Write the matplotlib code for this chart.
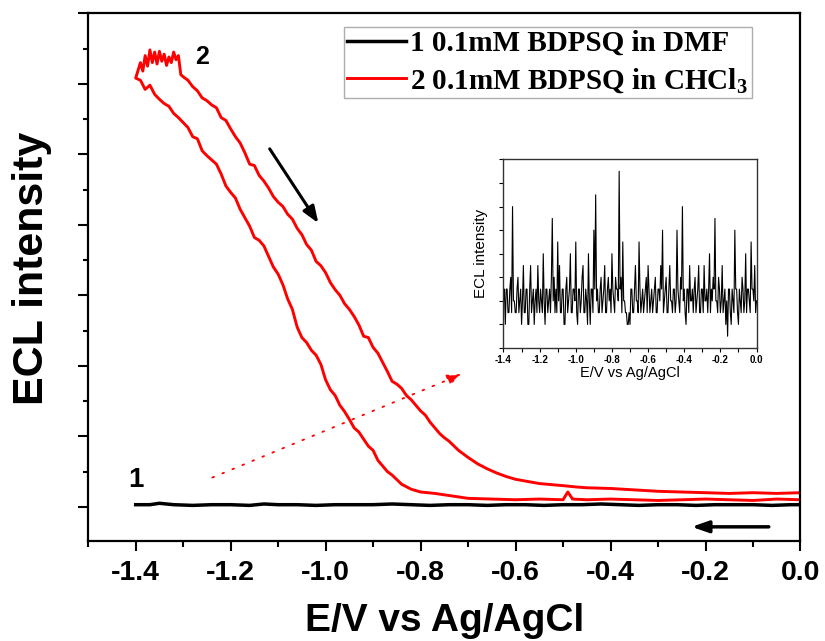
import matplotlib
matplotlib.use("Agg")
import matplotlib.pyplot as plt
import numpy as np
from matplotlib.ticker import MultipleLocator, NullFormatter

plt.rcParams['font.family'] = ['Liberation Sans', 'DejaVu Sans']
plt.rcParams['mathtext.fontset'] = 'custom'
plt.rcParams['mathtext.rm'] = 'Liberation Serif:bold'
plt.rcParams['mathtext.it'] = 'Liberation Serif:bold'
plt.rcParams['mathtext.bf'] = 'Liberation Serif:bold'

# curve 1: BDPSQ in DMF (flat)
dmf_x = [-1.40, -1.37, -1.35, -1.32, -1.28, -1.24, -1.20, -1.16, -1.13, -1.10, -1.06,
         -1.02, -0.98, -0.94, -0.90, -0.86, -0.82, -0.78, -0.74, -0.70, -0.66, -0.62,
         -0.58, -0.54, -0.50, -0.46, -0.42, -0.38, -0.34, -0.30, -0.26, -0.22, -0.18,
         -0.14, -0.10, -0.06, -0.02, 0.00]
dmf_y = [0.03, 0.03, 0.05, 0.03, 0.02, 0.03, 0.03, 0.02, 0.04, 0.03, 0.03,
         0.02, 0.03, 0.03, 0.03, 0.04, 0.03, 0.02, 0.03, 0.03, 0.02, 0.03,
         0.03, 0.02, 0.03, 0.03, 0.04, 0.03, 0.02, 0.03, 0.03, 0.02, 0.03,
         0.03, 0.03, 0.02, 0.03, 0.03]

# curve 2: BDPSQ in CHCl3, forward scan 0 -> -1.4
fwd_x = [0.00, -0.05, -0.10, -0.15, -0.20, -0.25, -0.30, -0.35, -0.40, -0.45, -0.48,
         -0.49, -0.50, -0.55, -0.60, -0.65, -0.70, -0.74, -0.77, -0.80, -0.82, -0.84,
         -0.86, -0.87, -0.88, -0.89, -0.90, -0.91, -0.92, -0.93, -0.94, -0.95, -0.96,
         -0.97, -0.98, -0.99, -1.00, -1.01, -1.02, -1.03, -1.04, -1.05, -1.06, -1.07,
         -1.08, -1.09, -1.10, -1.11, -1.12, -1.13, -1.14, -1.15, -1.16, -1.17, -1.18,
         -1.19, -1.20, -1.21, -1.22, -1.23, -1.24, -1.25, -1.26, -1.27, -1.28, -1.29,
         -1.30, -1.31, -1.32, -1.33, -1.34, -1.35, -1.36, -1.37, -1.38, -1.39, -1.40]
fwd_y = [0.10, 0.11, 0.09, 0.10, 0.11, 0.10, 0.09, 0.10, 0.11, 0.10, 0.11,
         0.21, 0.10, 0.11, 0.10, 0.11, 0.12, 0.16, 0.19, 0.21, 0.25, 0.32,
         0.45, 0.50, 0.58, 0.66, 0.80, 0.86, 0.96, 1.06, 1.12, 1.24, 1.35,
         1.44, 1.58, 1.66, 1.80, 2.02, 2.15, 2.22, 2.33, 2.40, 2.55, 2.80,
         2.95, 3.15, 3.30, 3.40, 3.55, 3.70, 3.78, 3.82, 3.98, 4.10, 4.22,
         4.38, 4.46, 4.55, 4.72, 4.86, 4.92, 4.98, 5.05, 5.22, 5.25, 5.38,
         5.45, 5.52, 5.58, 5.68, 5.72, 5.78, 5.85, 5.98, 5.92, 6.05, 6.08]

# curve 2, reverse scan -1.4 -> 0
rev_x = [-1.40, -1.39, -1.385, -1.38, -1.375, -1.37, -1.365, -1.36, -1.355, -1.35,
         -1.345, -1.34, -1.335, -1.33, -1.325, -1.32, -1.315, -1.31, -1.305, -1.30,
         -1.29, -1.28, -1.27, -1.26, -1.25, -1.24, -1.23, -1.22, -1.21, -1.20, -1.19,
         -1.18, -1.17, -1.16, -1.15, -1.14, -1.13, -1.12, -1.11, -1.10, -1.09, -1.08,
         -1.07, -1.06, -1.05, -1.04, -1.03, -1.02, -1.01, -1.00, -0.99, -0.98, -0.97,
         -0.96, -0.95, -0.94, -0.93, -0.92, -0.91, -0.90, -0.89, -0.88, -0.87, -0.86,
         -0.85, -0.84, -0.83, -0.82, -0.81, -0.80, -0.79, -0.78, -0.77, -0.76, -0.75,
         -0.74, -0.72, -0.70, -0.68, -0.66, -0.64, -0.62, -0.60, -0.55, -0.50, -0.47,
         -0.45, -0.40, -0.35, -0.30, -0.25, -0.20, -0.15, -0.10, -0.05, 0.00]
rev_y = [6.08, 6.30, 6.18, 6.40, 6.25, 6.48, 6.30, 6.45, 6.28, 6.46,
         6.32, 6.42, 6.26, 6.38, 6.30, 6.45, 6.34, 6.40, 6.13, 6.10,
         6.05, 5.96, 5.90, 5.80, 5.76, 5.70, 5.66, 5.52, 5.48, 5.36, 5.25,
         5.16, 5.02, 4.86, 4.84, 4.70, 4.62, 4.52, 4.40, 4.32, 4.26, 4.15,
         4.08, 3.95, 3.86, 3.72, 3.64, 3.48, 3.42, 3.32, 3.18, 3.08, 3.00,
         2.88, 2.80, 2.70, 2.58, 2.42, 2.40, 2.26, 2.18, 2.05, 1.92, 1.78,
         1.74, 1.68, 1.58, 1.52, 1.44, 1.36, 1.30, 1.20, 1.12, 1.04, 0.98,
         0.93, 0.80, 0.70, 0.61, 0.54, 0.48, 0.43, 0.39, 0.33, 0.30, 0.28,
         0.27, 0.26, 0.24, 0.22, 0.21, 0.20, 0.19, 0.20, 0.19, 0.20]

# inset: DMF trace, magnified (sampled every 5 mV)
inset_x = np.linspace(-1.40, 0.0, 281)
inset_y = [0, 1, -2, 1, 1, -1, -1, 1, 2, -1, 8, 0, 0, -1, -1, 1, 2, -1, 0, 1,
           -2, 0, 3, -1, -1, 1, 1, -2, -2, 1, 3, -1, 0, 1, -2, 0, 1, -1, 3, 0,
           -1, 1, 0, -1, 4, 0, -2, 1, 1, -1, 0, 1, -1, 2, 7, 0, 2, -1, 1, -1,
           5, 0, 3, -1, -1, 1, 1, -2, -2, 1, 2, -1, 0, 1, 4, -1, -1, 1, 1, 0,
           5, -1, -2, 1, 1, -1, 0, 2, 3, -1, -1, 1, 0, -2, 4, 0, -2, 1, 1, -1,
           6, 1, 9, 0, 1, -1, -1, 1, 2, -1, 0, 1, 3, -1, -1, 1, 2, 0, 1, -1,
           4, 1, 0, -1, 2, 1, 1, 0, 11, 1, 2, -1, 5, 0, 0, -1, -1, -2, -2, -1,
           -2, 1, 1, -1, -1, 1, 3, 0, 0, -1, 5, 1, -1, 0, 1, -1, 0, 1, 2, -1,
           3, 1, -1, 0, 1, -1, 0, 1, 2, -1, -1, 1, 1, 0, 3, 1, 6, -1, 0, 1,
           2, -1, -1, 1, 3, 0, 0, -1, 1, 1, -1, 0, 6, 1, 0, -1, 2, 1, 8, 0,
           1, -1, -2, 1, 1, -1, 3, 0, 0, 1, -1, 1, 2, -1, 0, 1, 3, -1, -1, 1,
           1, -1, 3, 0, 0, 1, -1, 1, 4, -1, 1, 0, 2, 1, 7, 0, 0, -1, 2, 1,
           -1, 0, 3, -1, 0, 1, -2, 0, -3, 1, 1, -1, -2, 1, 0, -1, 6, 1, 1, -1,
           -2, 1, 0, -1, 2, 1, -1, 0, 4, -1, 1, 1, 0, -1, 5, 1, 1, 0, 3, -1, 0]

ticks = [-1.4, -1.2, -1.0, -0.8, -0.6, -0.4, -0.2, 0.0]
tick_labels = ['-1.4', '-1.2', '-1.0', '-0.8', '-0.6', '-0.4', '-0.2', '0.0']

fig = plt.figure(figsize=(8.25, 6.41), dpi=100)
ax = fig.add_axes([0.1069, 0.156, 0.8634, 0.8233])

ax.plot(dmf_x, dmf_y, color='black', lw=2.5, label='1 0.1mM BDPSQ in DMF')
ax.plot(fwd_x + rev_x, fwd_y + rev_y, color='red', lw=2.1,
        label='2 0.1mM BDPSQ in CHCl$_3$')

ax.set_xlim(-1.5, 0.0)
ax.set_ylim(-0.485, 7.0)
ax.set_xticks(ticks)
ax.set_xticklabels(tick_labels)
ax.xaxis.set_minor_locator(MultipleLocator(0.1))
ax.yaxis.set_major_locator(MultipleLocator(1.0))
ax.yaxis.set_minor_locator(MultipleLocator(0.5))
ax.yaxis.set_major_formatter(NullFormatter())
ax.tick_params(axis='x', which='major', direction='out', length=7, width=1.5,
               labelsize=20.5, pad=7)
ax.tick_params(axis='x', which='minor', direction='out', length=4, width=1.5)
ax.tick_params(axis='y', which='major', direction='out', length=7, width=1.5)
ax.tick_params(axis='y', which='minor', direction='out', length=3.5, width=1.5)
for t in ax.get_xticklabels():
    t.set_fontweight('bold')
for s in ax.spines.values():
    s.set_linewidth(1.6)

ax.set_xlabel('E/V vs Ag/AgCl', fontsize=28, fontweight='bold', labelpad=12)
ax.set_ylabel('ECL intensity', fontsize=31, fontweight='bold')
ax.yaxis.set_label_coords(-0.051, 0.516)

ax.text(-1.261, 6.38, '2', fontsize=18, fontweight='bold', ha='center', va='center')
ax.text(-1.400, 0.375, '1', fontsize=20, fontweight='bold', ha='center', va='center')

# scan direction arrows
ax.annotate('', xy=(-1.012, 3.99), xytext=(-1.121, 5.11),
            arrowprops=dict(arrowstyle='-|>,head_length=1.0,head_width=0.38',
                            color='black', lw=2.2))
ax.annotate('', xy=(-0.235, -0.284), xytext=(-0.061, -0.284),
            arrowprops=dict(arrowstyle='-|>,head_length=1.0,head_width=0.35',
                            color='black', lw=2.5))
ax.annotate('', xy=(-0.707, 1.90), xytext=(-1.244, 0.40),
            arrowprops=dict(arrowstyle='-|>,head_length=0.9,head_width=0.32',
                            color='red', lw=1.3, linestyle=(0, (1, 5))))

leg = ax.legend(loc='upper left', bbox_to_anchor=(0.3591, 0.9746), borderaxespad=0,
                prop={'family': 'Liberation Serif', 'weight': 'bold', 'size': 21},
                frameon=True, fancybox=False, borderpad=0.12, handlelength=2.0,
                handletextpad=0.15, labelspacing=0.3)
leg.get_frame().set_edgecolor('#999999')
leg.get_frame().set_linewidth(1.0)

# inset
ax2 = fig.add_axes([0.6103, 0.4571, 0.3067, 0.2941])
ax2.plot(inset_x, inset_y, color='black', lw=0.8)
ax2.set_xlim(-1.4, 0.0)
ax2.set_ylim(-4, 12)
ax2.set_xticks(ticks)
ax2.set_xticklabels(tick_labels)
ax2.xaxis.set_minor_locator(MultipleLocator(0.1))
ax2.yaxis.set_major_locator(MultipleLocator(2))
ax2.yaxis.set_major_formatter(NullFormatter())
ax2.tick_params(axis='x', which='both', direction='out', length=3, width=0.8,
                labelsize=7, pad=2)
ax2.tick_params(axis='y', direction='out', length=3, width=0.8)
for t in ax2.get_xticklabels():
    t.set_fontweight('bold')
for s in ax2.spines.values():
    s.set_linewidth(1.0)
    s.set_color('#333333')
ax2.set_xlabel('E/V vs Ag/AgCl', fontsize=10.5, labelpad=1)
ax2.set_ylabel('ECL intensity', fontsize=11, labelpad=5)

fig.savefig('out.png', dpi=100)
